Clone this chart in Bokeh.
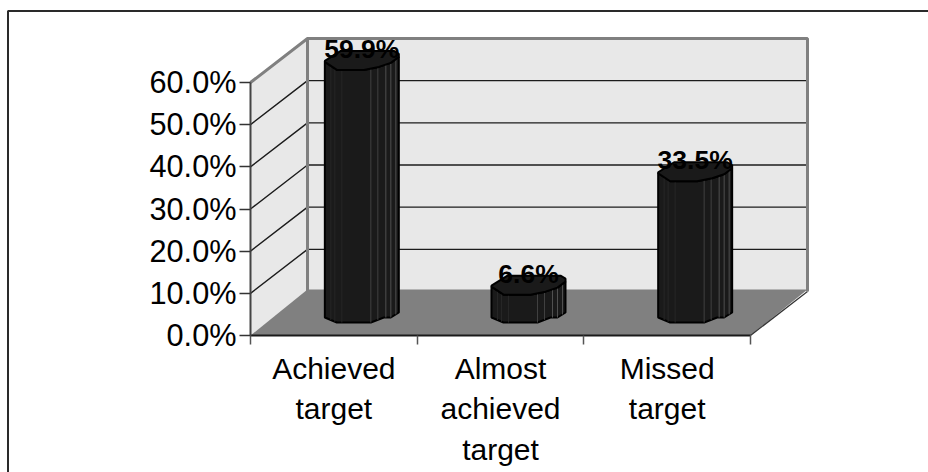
from bokeh.plotting import figure
from bokeh.models import Range1d, FixedTicker, ColumnDataSource
from bokeh.core.properties import value
from bokeh.embed import file_html
from bokeh.resources import INLINE

categories = ["Achieved\ntarget", "Almost\nachieved\ntarget", "Missed\ntarget"]
shares = [59.9, 6.6, 33.5]
y_ticks = [0, 10, 20, 30, 40, 50, 60]

W, H = 928, 472
X0, Y0 = 250, 335   # page pixel of the axes' origin
PX_X = 500 / 3      # pixels per category
PX_Y = 253 / 60     # pixels per percentage point
px = lambda n: n / PX_X
py = lambda n: n / PX_Y
DX, DY = px(57), py(44)
XMAX = 3.0 + DX
FONT = "Liberation Sans"

p = figure(width=W, height=H, output_backend="svg", toolbar_location=None,
           x_range=Range1d(px(-X0), px(W - X0)), y_range=Range1d(py(Y0 - H), py(Y0)),
           min_border=0, outline_line_color=None,
           background_fill_color="white", border_fill_color="white")
p.grid.visible = False

# page frame: top and left edges only
fx, fy = px(7.5 - X0), py(Y0 - 10.5)
p.line([fx, fx, px(W - X0)], [py(Y0 - H), fy, fy], line_color="#2a2a2a", line_width=2)

# walls and floor
top = y_ticks[-1]
p.patch([0, DX, DX, 0], [top, top + DY, DY, 0], fill_color="#e8e8e8", line_color=None)
p.patch([DX, XMAX, XMAX, DX], [top + DY, top + DY, DY, DY], fill_color="#e8e8e8", line_color=None)
for t in y_ticks[1:-1]:
    p.line([0, DX, XMAX], [t, t + DY, t + DY], line_color="#1c1c1c", line_width=1.4)
p.patch([0, DX, XMAX, 3], [0, DY + py(2), DY + py(2), 0], fill_color="#808080", line_color=None)
p.line([3, XMAX], [0, DY], line_color="#333333", line_width=1.2)
p.line([0, DX, XMAX, XMAX], [top, top + DY, top + DY, DY], line_color="#808080", line_width=3)
p.line([DX, DX], [top + DY, DY], line_color="#808080", line_width=3)

# columns (faceted outline offsets in pixels)
BASE = py(13)
SHIFT = px(28)
HALF = 37
LABEL_GAP = py(21)
bottom_profile = [(0, 5), (12, 0), (46, 0), (59, 5), (66, 5), (74, 10)]
top_profile = [(0, 8), (12, 0), (39, 0), (54, 3), (66, 7), (74, 13)]
back_profile = [(74, 16), (69, 19), (16, 19), (0, 9)]
streaks = [6, 10, 17, 46, 53, 61, 66, 71]
streak_colors = ["#262626", "#262626", "#262626", "#404040", "#404040", "#505050", "#505050", "#505050"]


def interp(profile, u):
    for (a, va), (b, vb) in zip(profile, profile[1:]):
        if a <= u <= b:
            return va + (vb - va) * (u - a) / (b - a)
    return profile[-1][1]


body_x, body_y, cap_x, cap_y, sx, sy, sc = [], [], [], [], [], [], []
for i, v in enumerate(shares):
    cx = i + 0.5 + SHIFT
    tx = lambda u: cx + px(u - HALF)
    base, tp = BASE, BASE + v
    body_x.append([tx(u) for u, _ in bottom_profile] + [tx(u) for u, _ in reversed(top_profile)])
    body_y.append([base + py(d) for _, d in bottom_profile] + [tp + py(d) for _, d in reversed(top_profile)])
    cap_x.append([tx(u) for u, _ in top_profile] + [tx(u) for u, _ in back_profile])
    cap_y.append([tp + py(d) for _, d in top_profile] + [tp + py(d) for _, d in back_profile])
    for u, c in zip(streaks, streak_colors):
        lo, hi = base + py(interp(bottom_profile, u)), tp + py(interp(top_profile, u))
        if hi > lo:
            sx.append([tx(u), tx(u)])
            sy.append([lo, hi])
            sc.append(c)

p.patches(body_x, body_y, fill_color="#1a1a1a", line_color="#000000", line_width=2)
p.multi_line(sx, sy, line_color=sc, line_width=1)
p.patches(cap_x, cap_y, fill_color="#1a1a1a", line_color="#000000", line_width=2)

lab = ColumnDataSource(dict(x=[i + 0.5 + SHIFT for i in range(3)],
                            y=[BASE + v + LABEL_GAP for v in shares],
                            t=[f"{v:.1f}%" for v in shares]))
p.text("x", "y", text="t", source=lab, text_align="center", text_baseline="alphabetic",
       text_font=value(FONT), text_font_style="bold", text_font_size="26.5px",
       text_color="#000000")

# axes
ya = p.yaxis[0]
ya.fixed_location = 0
ya.bounds = (0, 60)
ya.ticker = FixedTicker(ticks=y_ticks)
ya.major_label_overrides = {t: f"{t:.1f}%" for t in y_ticks}
ya.major_tick_out = 11
ya.major_tick_in = 0
ya.minor_tick_line_color = None
ya.major_label_standoff = 3
ya.major_label_text_font = FONT
ya.major_label_text_font_size = "30.7px"
ya.major_label_text_color = "#000000"
ya.axis_line_color = "#444444"
ya.axis_line_width = 2
ya.major_tick_line_color = "#333333"
ya.major_tick_line_width = 1.5

xa = p.xaxis[0]
xa.fixed_location = 0
xa.bounds = (0, 3)
xa.ticker = FixedTicker(ticks=[0.5, 1.5, 2.5], minor_ticks=[0, 1, 2, 3])
xa.major_label_overrides = {i + 0.5: c for i, c in enumerate(categories)}
xa.major_tick_line_color = None
xa.minor_tick_out = 9
xa.minor_tick_in = 0
xa.minor_tick_line_color = "#555555"
xa.minor_tick_line_width = 1.5
xa.major_label_standoff = 7
xa.major_label_text_font = FONT
xa.major_label_text_font_size = "30px"
xa.major_label_text_color = "#000000"
xa.major_label_text_line_height = 1.24
xa.axis_line_color = "#1a1a1a"
xa.axis_line_width = 2

open("out.html", "w").write(file_html(p, INLINE))
